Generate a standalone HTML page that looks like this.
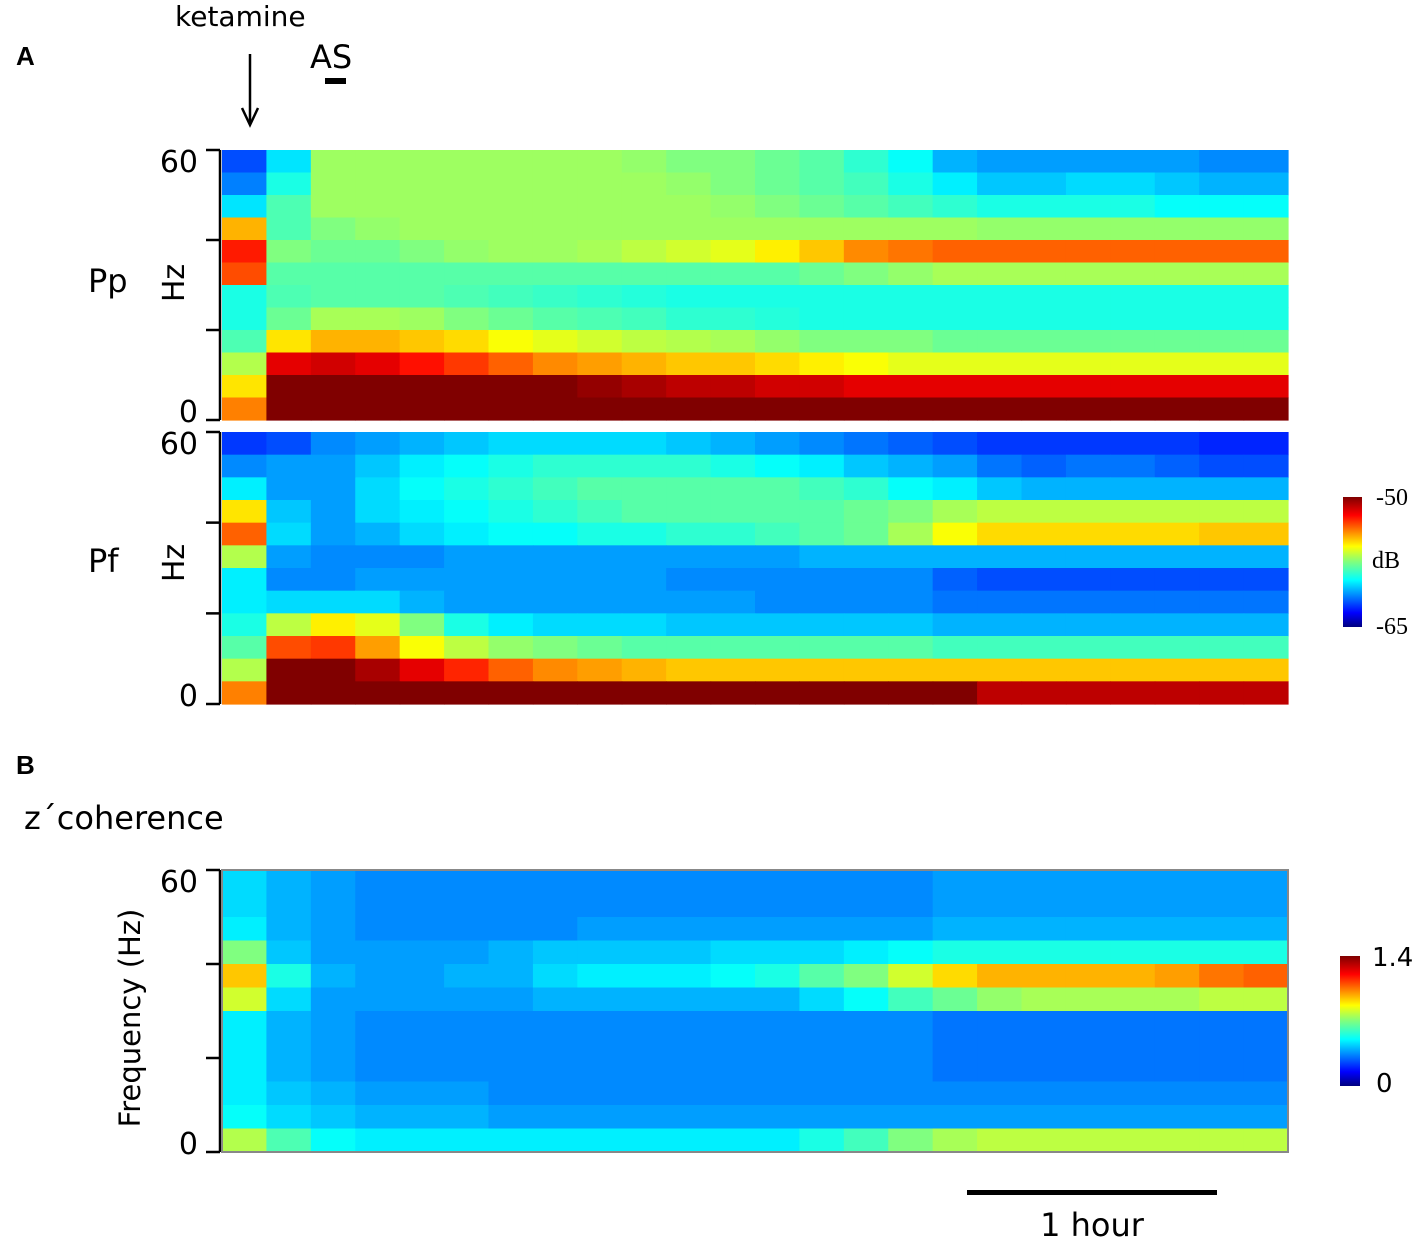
<!DOCTYPE html>
<html><head><meta charset="utf-8">
<style>
body{margin:0;background:#fff;width:1417px;height:1240px;overflow:hidden;font-family:"DejaVu Sans","Liberation Sans",sans-serif;}
svg{position:absolute;left:0;top:0;}
</style></head>
<body>
<svg id="fig" width="1417" height="1240" viewBox="0 0 1417 1240" xmlns="http://www.w3.org/2000/svg" font-family="DejaVu Sans, Liberation Sans, sans-serif">
  <text x="16" y="65" font-size="26" font-weight="bold" font-family="Liberation Sans">A</text>
  <text x="16" y="774" font-size="26" font-weight="bold" font-family="Liberation Sans">B</text>
  <text x="175" y="26" font-size="28">ketamine</text>
  <g>
    <line x1="250" y1="54" x2="250" y2="124" stroke="#000" stroke-width="2.5"/>
    <polyline points="242,108 250,125 258,108" fill="none" stroke="#000" stroke-width="2.5"/>
  </g>
  <text x="310" y="68" font-size="32">AS</text>
  <rect x="325" y="78" width="21" height="6" fill="#000"/>

  <text x="88" y="292" font-size="32">Pp</text>
  <text x="88" y="572" font-size="32">Pf</text>
  <text transform="translate(184,283) rotate(-90)" font-size="30" text-anchor="middle">Hz</text>
  <text transform="translate(184,563) rotate(-90)" font-size="30" text-anchor="middle">Hz</text>
  <text x="24" y="829" font-size="32">z´coherence</text>
  <text transform="translate(140,1018) rotate(-90)" font-size="29" text-anchor="middle">Frequency (Hz)</text>

  <g id="panels"></g>
  <rect x="222" y="870" width="1066" height="282" fill="none" stroke="#888" stroke-width="2"/>

  <defs>
    <linearGradient id="jet" x1="0" y1="1" x2="0" y2="0">
      <stop offset="0" stop-color="#00007f"/><stop offset="0.11" stop-color="#0000ff"/>
      <stop offset="0.36" stop-color="#00ffff"/><stop offset="0.5" stop-color="#7fff7f"/>
      <stop offset="0.62" stop-color="#ffff00"/><stop offset="0.86" stop-color="#ff0000"/>
      <stop offset="1" stop-color="#7f0000"/>
    </linearGradient>
  </defs>
  <rect x="1343" y="497" width="19" height="130" fill="url(#jet)"/>
  <text x="1376" y="505" font-size="24" font-family="Liberation Serif">-50</text>
  <text x="1372" y="568" font-size="24" font-family="Liberation Serif">dB</text>
  <text x="1376" y="634" font-size="24" font-family="Liberation Serif">-65</text>
  <rect x="1340" y="956" width="20" height="130" fill="url(#jet)"/>
  <text x="1372" y="966" font-size="26">1.4</text>
  <text x="1376" y="1092" font-size="26">0</text>

  <rect x="967" y="1190" width="250" height="5" fill="#000"/>
  <text x="1092" y="1236" font-size="32" text-anchor="middle">1 hour</text>
</svg>
<script>
// values 0..10 (rows: top = 55-60 Hz, bottom = 0-5 Hz), 24 time bins
const ppGrid = [
 [2,3.5,5.3,5.3,5.3,5.3,5.3,5.3,5.3,5.2,5,5,4.8,4.6,4.2,3.8,3,2.8,2.8,2.8,2.8,2.8,2.6,2.6],
 [2.5,4,5.3,5.3,5.3,5.3,5.3,5.3,5.3,5.3,5.2,5,4.8,4.6,4.4,4,3.6,3.2,3.2,3.4,3.4,3.2,3,3],
 [3.5,4.5,5.3,5.3,5.3,5.3,5.3,5.3,5.3,5.3,5.3,5.2,5,4.8,4.6,4.4,4.2,4,4,4,4,3.8,3.8,3.8],
 [7,4.5,5,5.2,5.3,5.3,5.3,5.3,5.3,5.3,5.3,5.3,5.3,5.3,5.3,5.3,5.3,5.2,5.2,5.2,5.2,5.2,5.2,5.2],
 [8.5,5,4.8,4.8,5,5.2,5.3,5.3,5.4,5.6,5.8,6,6.4,6.8,7.4,7.6,7.8,7.8,7.8,7.8,7.8,7.8,7.8,7.8],
 [8,4.6,4.6,4.6,4.6,4.6,4.6,4.6,4.6,4.6,4.6,4.6,4.6,4.8,5,5.2,5.4,5.4,5.4,5.4,5.4,5.4,5.4,5.4],
 [4,4.5,4.6,4.6,4.6,4.5,4.4,4.3,4.2,4.1,4,4,4,4,4,4,4,4,4,4,4,4,4,4],
 [4,4.8,5.4,5.4,5.3,5,4.8,4.6,4.5,4.4,4.2,4.2,4.1,4,4,4,4,4,4,4,4,4,4,4],
 [4.5,6.5,7,7,6.8,6.6,6.2,6,5.8,5.6,5.5,5.4,5.2,5,5,5,4.8,4.8,4.8,4.8,4.8,4.8,4.8,4.8],
 [5.5,9,9.2,9,8.6,8.2,7.8,7.4,7.2,7,6.8,6.8,6.6,6.4,6.2,6,6,6,6,6,6,6,6,6],
 [6.5,10,10,10,10,10,10,10,9.8,9.6,9.4,9.4,9.2,9.2,9,9,9,9,9,9,9,9,9,9],
 [7.5,10,10,10,10,10,10,10,10,10,10,10,10,10,10,10,10,10,10,10,10,10,10,10]
];
const pfGrid = [
 [1.8,2,2.6,2.8,3,3.2,3.4,3.4,3.4,3.4,3.2,3,2.8,2.6,2.4,2.2,2,1.8,1.8,1.8,1.8,1.8,1.6,1.6],
 [2.6,2.8,2.8,3.2,3.6,3.8,4,4.2,4.2,4.2,4.2,4,3.8,3.6,3.2,3,2.8,2.4,2.2,2.4,2.4,2.2,2,2],
 [3.6,2.8,2.8,3.4,3.8,4,4.2,4.4,4.6,4.6,4.6,4.6,4.6,4.4,4.2,3.8,3.6,3.2,3,3,3,3,3,3],
 [6.5,3.2,2.8,3.4,3.6,3.8,4,4.2,4.4,4.6,4.6,4.6,4.6,4.6,4.8,5,5.4,5.6,5.6,5.6,5.6,5.6,5.6,5.6],
 [7.8,3.4,2.8,3,3.4,3.6,3.8,3.8,4,4,4.2,4.2,4.4,4.6,4.8,5.4,6.2,6.6,6.6,6.6,6.6,6.6,6.8,6.8],
 [5.5,2.8,2.6,2.6,2.6,2.8,2.8,2.8,2.8,2.8,2.8,2.8,2.8,3,3,3,3,3,3,3,3,3,3,3],
 [3.6,2.6,2.6,2.8,2.8,2.8,2.8,2.8,2.8,2.8,2.6,2.6,2.6,2.6,2.6,2.6,2.2,2,2,2,2,2,2,2],
 [3.6,3.4,3.4,3.4,3,2.8,2.8,2.8,2.8,2.8,2.8,2.8,2.6,2.6,2.6,2.6,2.4,2.4,2.4,2.4,2.4,2.4,2.4,2.4],
 [4,5.6,6.4,6,5,4,3.6,3.4,3.4,3.4,3.2,3.2,3.2,3.2,3.2,3.2,3,3,3,3,3,3,3,3],
 [4.6,8,8.2,7.2,6.2,5.6,5.2,5,4.8,4.6,4.6,4.6,4.6,4.6,4.6,4.6,4.4,4.4,4.4,4.4,4.4,4.4,4.4,4.4],
 [5.5,10,10,9.6,9,8.4,7.8,7.4,7.2,7,6.8,6.8,6.8,6.8,6.8,6.8,6.8,6.8,6.8,6.8,6.8,6.8,6.8,6.8],
 [7.5,10,10,10,10,10,10,10,10,10,10,10,10,10,10,10,10,9.4,9.4,9.4,9.4,9.4,9.4,9.4]
];
const cohGrid = [
 [3.4,3,2.8,2.6,2.6,2.6,2.6,2.6,2.6,2.6,2.6,2.6,2.6,2.6,2.6,2.6,2.8,2.8,2.8,2.8,2.8,2.8,2.8,2.8],
 [3.4,3,2.8,2.6,2.6,2.6,2.6,2.6,2.6,2.6,2.6,2.6,2.6,2.6,2.6,2.6,2.8,2.8,2.8,2.8,2.8,2.8,2.8,2.8],
 [3.6,3,2.8,2.6,2.6,2.6,2.6,2.6,2.8,2.8,2.8,2.8,2.8,2.8,2.8,2.8,3,3,3,3,3,3,3,3],
 [5,3.2,2.8,2.8,2.8,2.8,3,3.2,3.2,3.2,3.2,3.4,3.4,3.4,3.6,3.8,4,4,4,4,4,4,4,4],
 [6.8,4,3,2.8,2.8,3,3,3.4,3.6,3.6,3.6,3.8,4,4.6,5,5.8,6.6,7,7,7,7,7.2,7.6,7.8],
 [5.8,3.4,2.8,2.8,2.8,2.8,2.8,3,3,3,3,3,3,3.4,3.8,4.4,4.8,5.2,5.4,5.4,5.4,5.4,5.6,5.6],
 [3.6,3,2.8,2.6,2.6,2.6,2.6,2.6,2.6,2.6,2.6,2.6,2.6,2.6,2.6,2.6,2.4,2.4,2.4,2.4,2.4,2.4,2.4,2.4],
 [3.6,3,2.8,2.6,2.6,2.6,2.6,2.6,2.6,2.6,2.6,2.6,2.6,2.6,2.6,2.6,2.4,2.4,2.4,2.4,2.4,2.4,2.4,2.4],
 [3.6,3,2.8,2.6,2.6,2.6,2.6,2.6,2.6,2.6,2.6,2.6,2.6,2.6,2.6,2.6,2.4,2.4,2.4,2.4,2.4,2.4,2.4,2.4],
 [3.6,3.2,3,2.8,2.8,2.8,2.6,2.6,2.6,2.6,2.6,2.6,2.6,2.6,2.6,2.6,2.6,2.6,2.6,2.6,2.6,2.6,2.6,2.6],
 [3.8,3.4,3.2,3,3,3,2.8,2.8,2.8,2.8,2.8,2.8,2.8,2.8,2.8,2.8,2.8,2.8,2.8,2.8,2.8,2.8,2.8,2.8],
 [5.5,4.5,3.8,3.6,3.6,3.6,3.6,3.6,3.6,3.6,3.6,3.6,3.6,4,4.4,5,5.4,5.6,5.6,5.6,5.6,5.6,5.6,5.6]
];
const yTickLabels = ["60","0"];

function jet(v){
  const t=Math.max(0,Math.min(1,v/10));
  const r=Math.max(0,Math.min(1,1.5-Math.abs(4*t-3)));
  const g=Math.max(0,Math.min(1,1.5-Math.abs(4*t-2)));
  const b=Math.max(0,Math.min(1,1.5-Math.abs(4*t-1)));
  return `rgb(${Math.round(r*255)},${Math.round(g*255)},${Math.round(b*255)})`;
}
const NS="http://www.w3.org/2000/svg";
const root=document.getElementById('panels');
function drawPanel(grid,x0,y0,w,h,name){
  const g=document.createElementNS(NS,'g');
  
  
  root.appendChild(g);
  const nr=grid.length, nc=grid[0].length;
  const xs=c=>x0+c*w/nc, ys=r=>y0+r*h/nr;
  for(let r=0;r<nr;r++)for(let c=0;c<nc;c++){
    const rc=document.createElementNS(NS,'rect');
    rc.setAttribute('x',xs(c));rc.setAttribute('y',ys(r));
    rc.setAttribute('width',w/nc+0.6);rc.setAttribute('height',h/nr+0.6);
    rc.setAttribute('fill',jet(grid[r][c]));
    
    
    g.appendChild(rc);
  }
  const ax=document.createElementNS(NS,'path');
  let d=`M${x0-2},${y0} V${y0+h}`;
  for(let i=0;i<=3;i++){const y=y0+i*h/3;d+=` M${x0-16},${y} H${x0-2}`;}
  ax.setAttribute('d',d);ax.setAttribute('stroke','#000');ax.setAttribute('stroke-width','2.5');ax.setAttribute('fill','none');
  
  
  g.appendChild(ax);
  [[yTickLabels[0],y0+22],[yTickLabels[1],y0+h+2]].forEach(([t,y])=>{
    const tx=document.createElementNS(NS,'text');
    tx.setAttribute('x',x0-24);tx.setAttribute('y',y);tx.setAttribute('font-size','30');tx.setAttribute('text-anchor','end');
    tx.textContent=t;
    
    
    g.appendChild(tx);
  });
}
drawPanel(ppGrid,222,150,1066,270,'pp-spectrogram');
drawPanel(pfGrid,222,432,1066,272,'pf-spectrogram');
drawPanel(cohGrid,222,870,1066,282,'coherence-heatmap');
</script>
</body></html>
